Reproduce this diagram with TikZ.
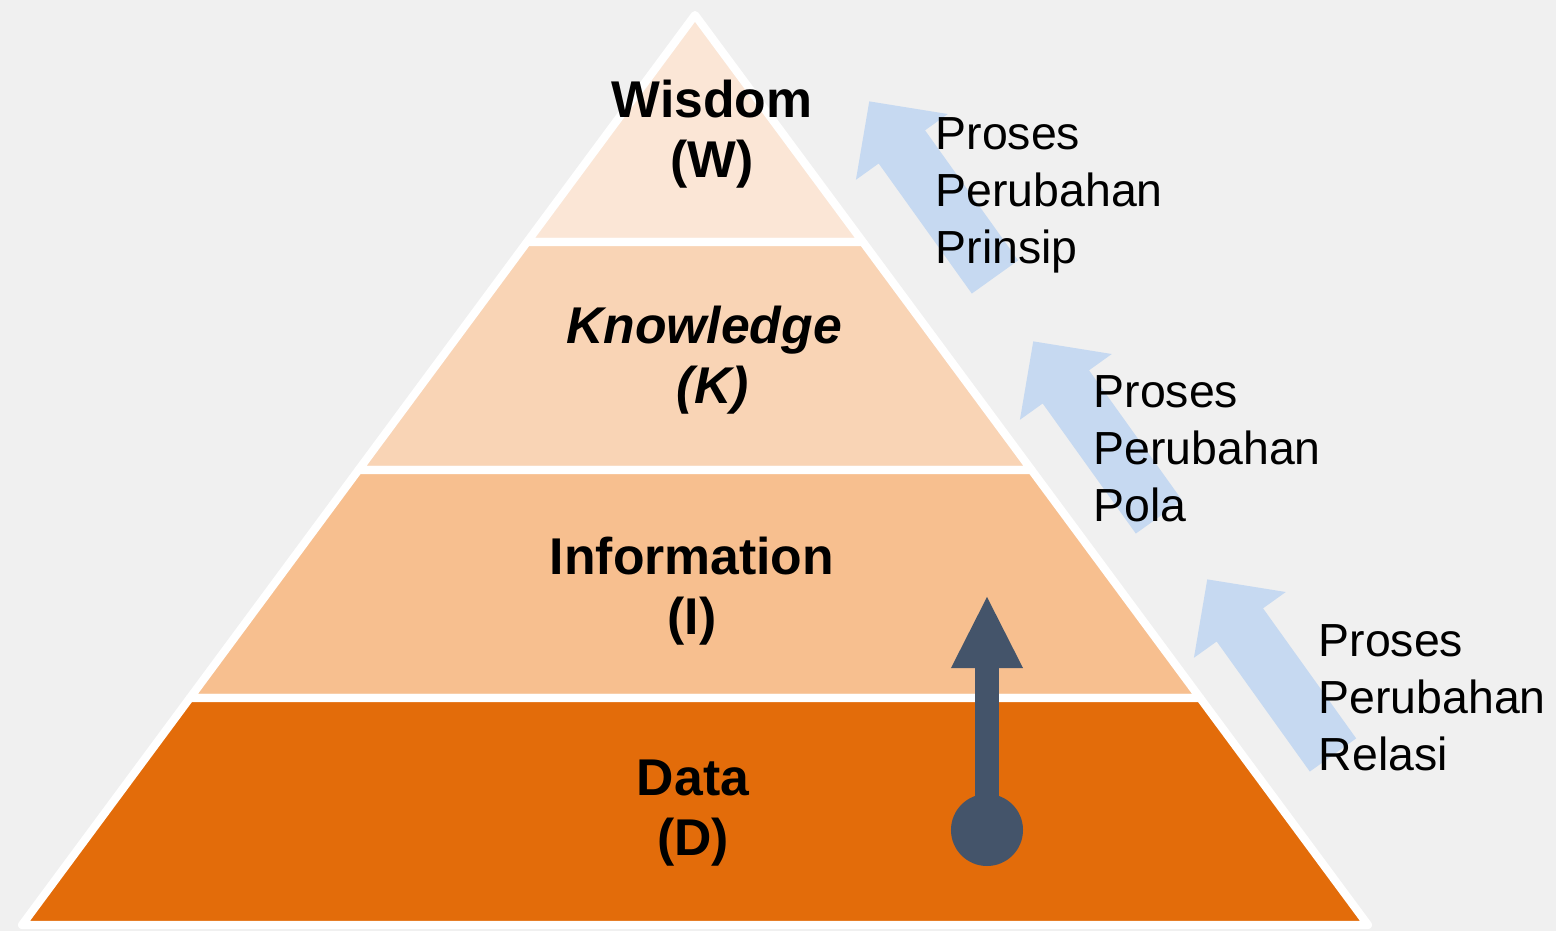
\documentclass[tikz,border=0pt]{standalone}
\usepackage{fontspec}
\setmainfont{Liberation Sans}
\usetikzlibrary{arrows.meta}
\definecolor{bgGray}{HTML}{F0F0F0}
\definecolor{wisdomFill}{HTML}{FBE6D6}
\definecolor{knowFill}{HTML}{F9D4B5}
\definecolor{infoFill}{HTML}{F7BF8F}
\definecolor{dataFill}{HTML}{E36C0A}
\definecolor{slateDark}{HTML}{44546A}
\definecolor{procBlue}{HTML}{C6D9F1}
\tikzset{
  layer/.style={draw=white,line width=2.3pt,line join=round},
  layerLabel/.style={align=center,inner sep=0pt,font=\bfseries\fontsize{14.7}{17}\selectfont},
  procLabel/.style={anchor=north west,align=left,inner sep=0pt,font=\fontsize{13.2}{16.2}\selectfont}
}
\begin{document}
\begin{tikzpicture}[x=0.01cm,y=-0.01cm]
      \fill[bgGray] (0,0) rectangle (1556,931);
      \useasboundingbox (0,0) rectangle (1556,931);
      \filldraw[layer,fill=wisdomFill] (695,15) -- (862.9,242) -- (527.1,242) -- cycle;
      \filldraw[layer,fill=knowFill] (527.1,242) -- (862.9,242) -- (1031.5,470) -- (358.5,470) -- cycle;
      \filldraw[layer,fill=infoFill] (358.5,470) -- (1031.5,470) -- (1200.1,698) -- (189.9,698) -- cycle;
      \filldraw[layer,fill=dataFill] (189.9,698) -- (1200.1,698) -- (1368,925) -- (22,925) -- cycle;
      \foreach \tx/\ty in {995/277,1159/517,1333/755}
        \fill[procBlue,shift={(\tx,\ty)},rotate=125.6] (0,-28.5) -- (160,-28.5) -- (160,-56.5) -- (216,0) -- (160,56.5) -- (160,28.5) -- (0,28.5) -- cycle;
      \begin{scope}[every node/.style={layerLabel}]
        \node (wisdom) at (712,134) {Wisdom\\(W)};
        \node[font=\bfseries\itshape\fontsize{14.7}{17}\selectfont] (knowledge) at (704,360) {Knowledge\\\kern5pt(K)};
        \node (information) at (692,591) {Information\\(I)};
        \node (data) at (693,813) {Data\\(D)};
      \end{scope}
      \begin{scope}[every node/.style={procLabel}]
        \node (procW) at (935,117) {Proses\\Perubahan\\Prinsip};
        \node (procK) at (1093,375) {Proses\\Perubahan\\Pola};
        \node (procI) at (1318,624) {Proses\\Perubahan\\Relasi};
      \end{scope}
      \node[circle,fill=slateDark,minimum size=0.72cm,inner sep=0pt] (dot) at (987,830) {};
      \coordinate (tip) at (987,597);
      \draw[slateDark,line width=0.24cm,-{Triangle[width=0.72cm,length=0.71cm,line width=0pt]}] (dot.center) -- (tip);
    \end{tikzpicture}
\end{document}
